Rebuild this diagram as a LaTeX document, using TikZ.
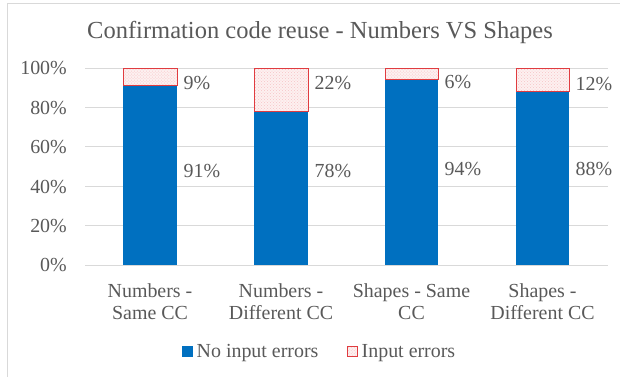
\documentclass[tikz,border=0pt]{standalone}
\usepackage{fontspec}
\setmainfont{Liberation Serif}
\usetikzlibrary{patterns}
\definecolor{chartblue}{HTML}{0070C0}
\definecolor{chartred}{HTML}{E03C40}
\definecolor{chartpink}{HTML}{FDF0F0}
\definecolor{chartgrid}{HTML}{D9D9D9}
\definecolor{charttext}{HTML}{595959}
\tikzset{
  okbar/.style={fill=chartblue},
  errbar/.style={
    draw=chartred,
    line width=1bp,
    pattern=crosshatch dots,
    pattern color=chartred!30,
    preaction={fill=chartpink}
  },
  gridline/.style={draw=chartgrid, line width=1bp},
  chartfont/.style={inner sep=0pt, text=charttext, font=\fontsize{20}{23}\selectfont},
  ticklabel/.style={chartfont, anchor=base east},
  vallabel/.style={chartfont, anchor=base west},
  catlabel/.style={chartfont, anchor=north, align=center},
  titlelabel/.style={inner sep=0pt, text=charttext, anchor=base, font=\fontsize{24.6}{28}\selectfont}
}

\begin{document}
\begin{tikzpicture}[x=1bp, y=-1bp]
  \useasboundingbox (0,0) rectangle (620,376);
  \draw[chartgrid] (7,3) rectangle (650,400);

  \node[titlelabel] (title) at (320,38) {Confirmation code reuse - Numbers VS Shapes};

  % value axis: 1% = 1.97 units
  \foreach \v in {0,20,...,100} {
    \draw[gridline] (85,{265-1.97*\v}) -- (608,{265-1.97*\v});
    \node[ticklabel] (tick\v) at (67,{271.8-1.97*\v}) {\v\%};
  }

  % stacked bars
  \fill[okbar] (123,265) rectangle (177,{265-1.97*91});
  \draw[errbar] (123,{265-1.97*91}) rectangle (177,68);
  \fill[okbar] (254,265) rectangle (308,{265-1.97*78});
  \draw[errbar] (254,{265-1.97*78}) rectangle (308,68);
  \fill[okbar] (385,265) rectangle (438,{265-1.97*94});
  \draw[errbar] (385,{265-1.97*94}) rectangle (438,68);
  \fill[okbar] (516,265) rectangle (569,{265-1.97*88});
  \draw[errbar] (516,{265-1.97*88}) rectangle (569,68);

  \node[vallabel] (ok1) at (183.5,177.8) {91\%};
  \node[vallabel] (err1) at (183.5,89.8) {9\%};
  \node[vallabel] (ok2) at (314.5,177.8) {78\%};
  \node[vallabel] (err2) at (314.5,89.8) {22\%};
  \node[vallabel] (ok3) at (444.5,175) {94\%};
  \node[vallabel] (err3) at (444.5,88.5) {6\%};
  \node[vallabel] (ok4) at (575.5,175.5) {88\%};
  \node[vallabel] (err4) at (575.5,90) {12\%};

  % categories
  \node[catlabel] (cat1) at (150,283) {Numbers -\\Same CC};
  \node[catlabel] (cat2) at (281,283) {Numbers -\\Different CC};
  \node[catlabel] (cat3) at (411.5,283) {Shapes - Same\\CC};
  \node[catlabel] (cat4) at (542.5,283) {Shapes -\\Different CC};

  % legend
  \fill[okbar] (182,346) rectangle (193,357);
  \node[vallabel] (keyok) at (196.5,357) {No input errors};
  \draw[errbar] (347.5,346.5) rectangle (357.5,356.5);
  \node[vallabel] (keyerr) at (361.5,357) {Input errors};
\end{tikzpicture}
\end{document}
